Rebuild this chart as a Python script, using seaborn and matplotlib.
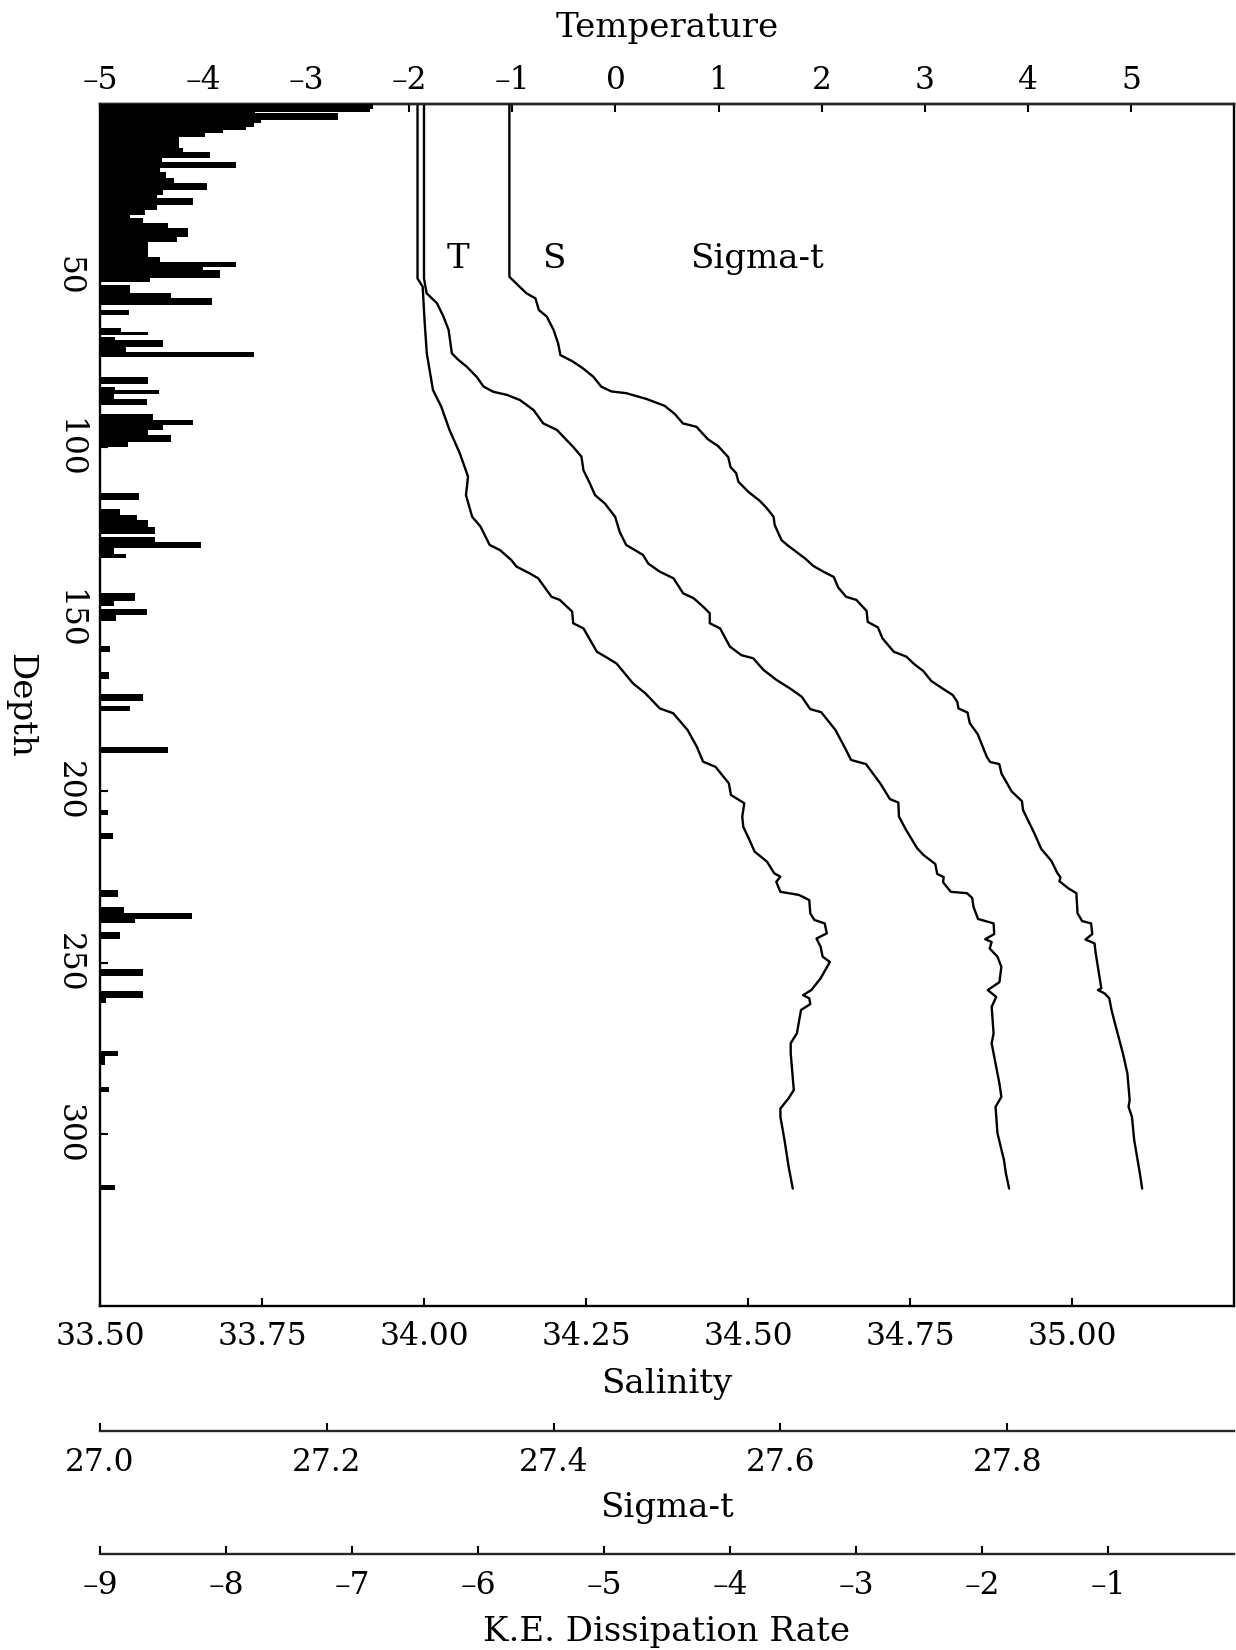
import matplotlib
matplotlib.use("Agg")
import matplotlib.pyplot as plt
import seaborn as sns
import numpy as np

# ---------------- data ----------------
temp_c = [-1.92, -1.92, -1.87, -1.85, -1.83, -1.77, -1.69, -1.61, -1.51, -1.43,
          -1.45, -1.39, -1.31, -1.22, -1.12, -1.01, -0.96, -0.83, -0.75, -0.62,
          -0.54, -0.42, -0.41, -0.31, -0.18, -0.10, 0.01, 0.17, 0.29, 0.43,
          0.56, 0.70, 0.79, 0.85, 0.97, 1.10, 1.12, 1.25, 1.23, 1.24,
          1.30, 1.35, 1.47, 1.54, 1.60, 1.56, 1.60, 1.78, 1.88, 1.89,
          1.93, 2.03, 2.05, 1.95, 1.99, 2.01, 2.08, 1.99, 1.90, 1.82,
          1.88, 1.89, 1.80, 1.76, 1.70, 1.70, 1.73, 1.68, 1.60, 1.60,
          1.64, 1.68, 1.72]
temp_depth = [0, 50.8, 53.2, 63.9, 72.6, 83.3, 88.1, 94.9, 101.7, 108.5,
              113.9, 120.2, 123.0, 128.4, 129.9, 132.8, 134.7, 136.7, 138.1, 143.5,
              144.4, 147.8, 151.2, 152.7, 159.5, 160.9, 162.9, 168.7, 171.6, 176.0,
              177.4, 182.3, 187.2, 191.5, 193.0, 197.8, 201.2, 203.6, 207.5, 210.5,
              214.3, 217.7, 220.6, 224.0, 225.0, 226.5, 229.4, 230.3, 231.8, 235.7,
              237.6, 238.6, 241.5, 243.0, 245.4, 248.3, 249.8, 254.6, 258.0, 259.5,
              260.4, 262.1, 263.8, 270.6, 273.5, 276.4, 287.1, 289.5, 292.5, 294.9,
              301.7, 309.5, 315.8]

sal_psu = [34.00, 34.00, 34.004, 34.020, 34.030, 34.038, 34.043, 34.053, 34.066, 34.081,
           34.092, 34.107, 34.128, 34.148, 34.169, 34.184, 34.205, 34.230, 34.243, 34.246,
           34.256, 34.264, 34.279, 34.295, 34.302, 34.312, 34.338, 34.346, 34.364, 34.385,
           34.400, 34.416, 34.431, 34.441, 34.441, 34.457, 34.472, 34.490, 34.508, 34.524,
           34.544, 34.565, 34.583, 34.596, 34.613, 34.635, 34.650, 34.659, 34.682, 34.704,
           34.719, 34.732, 34.733, 34.744, 34.761, 34.771, 34.789, 34.792, 34.802, 34.801,
           34.813, 34.838, 34.846, 34.848, 34.855, 34.879, 34.880, 34.866, 34.876, 34.873,
           34.885, 34.891, 34.888, 34.870, 34.883, 34.876, 34.879, 34.876, 34.882, 34.888,
           34.891, 34.882, 34.885, 34.895, 34.898, 34.903]
sal_depth = [0, 50.8, 55.1, 58.0, 61.9, 65.8, 72.6, 74.5, 76.5, 79.4,
             82.3, 83.8, 84.7, 86.2, 89.1, 93.0, 94.9, 99.8, 102.7, 106.6,
             110.5, 113.9, 116.3, 120.2, 124.6, 128.4, 131.3, 133.8, 136.2, 138.1,
             142.5, 143.9, 146.4, 148.3, 151.2, 152.7, 158.0, 160.5, 161.4, 164.8,
             167.7, 170.2, 172.6, 176.2, 177.1, 182.3, 187.6, 191.0, 192.2, 197.8,
             202.4, 203.4, 207.5, 211.4, 216.7, 218.7, 221.3, 224.2, 225.1, 226.6,
             229.4, 229.8, 231.2, 233.8, 237.3, 238.6, 241.7, 243.2, 244.0, 245.9,
             248.3, 251.2, 255.7, 258.0, 260.0, 262.9, 270.6, 273.5, 279.4, 285.2,
             289.1, 292.0, 299.7, 307.5, 311.4, 315.8]

sigma_t = [27.361, 27.361, 27.370, 27.376, 27.384, 27.387, 27.394, 27.400, 27.404, 27.406,
           27.417, 27.426, 27.435, 27.442, 27.451, 27.464, 27.482, 27.498, 27.507, 27.514,
           27.526, 27.536, 27.545, 27.554, 27.556, 27.561, 27.563, 27.572, 27.582, 27.588,
           27.594, 27.595, 27.601, 27.606, 27.614, 27.622, 27.629, 27.638, 27.647, 27.651,
           27.658, 27.667, 27.676, 27.677, 27.686, 27.690, 27.700, 27.711, 27.718, 27.726,
           27.733, 27.743, 27.752, 27.756, 27.757, 27.765, 27.767, 27.774, 27.782, 27.785,
           27.793, 27.795, 27.804, 27.813, 27.814, 27.824, 27.830, 27.839, 27.844, 27.847,
           27.846, 27.854, 27.861, 27.862, 27.866, 27.874, 27.875, 27.869, 27.877, 27.878,
           27.883, 27.880, 27.886, 27.890, 27.892, 27.895, 27.902, 27.906, 27.908, 27.907,
           27.910, 27.912, 27.915, 27.917, 27.919]
sigma_depth = [0, 50.3, 53.2, 55.1, 56.6, 60.0, 61.9, 65.8, 69.7, 73.1,
               75.0, 77.0, 79.4, 82.3, 83.7, 84.2, 85.9, 87.9, 90.3, 93.0,
               94.0, 97.6, 99.6, 102.8, 105.7, 107.5, 110.0, 113.0, 115.6, 117.7,
               120.2, 122.6, 127.0, 128.4, 130.4, 132.4, 134.5, 136.2, 137.7, 140.8,
               143.5, 144.4, 147.6, 150.8, 152.4, 155.6, 159.5, 160.9, 163.1, 165.1,
               168.0, 170.2, 172.1, 174.1, 176.0, 177.2, 180.3, 183.5, 190.1, 191.6,
               192.2, 195.0, 200.2, 203.0, 205.6, 212.4, 216.9, 220.4, 223.8, 225.2,
               226.3, 228.4, 229.8, 235.6, 237.9, 238.6, 241.7, 243.3, 244.4, 247.2,
               257.5, 258.0, 259.0, 260.4, 263.8, 267.7, 276.4, 282.3, 290.0, 292.0,
               294.9, 301.7, 307.5, 311.4, 315.8]

# K.E. dissipation rate (log10) in depth bins
ke_top = [0, 1.5, 2.2, 2.7, 4.7, 5.6, 6.6, 7.6, 8.5, 9.5,
          12.9, 13.9, 15.8, 16.8, 18.7, 19.7, 21.6, 23.1, 25.0, 26.5,
          27.5, 29.4, 30.9, 32.3, 33.3, 34.7, 36.2, 38.6, 40.1, 44.5,
          45.9, 47.4, 48.3, 50.8, 52.7, 55.1, 56.6, 58.5, 60.0, 65.3,
          66.3, 67.7, 68.7, 70.7, 72.1, 79.5, 82.4, 83.4, 84.5, 85.8,
          90.2, 92.1, 93.6, 95.0, 96.5, 98.4, 113.4, 115.3, 117.8, 119.7,
          121.2, 123.1, 126.0, 127.5, 129.4, 130.9, 142.5, 144.7, 147.0, 148.9,
          157.8, 165.5, 171.9, 175.2, 187.1, 205.6, 212.3, 229.0, 233.9, 235.7,
          237.2, 241.0, 252.0, 258.4, 260.3, 275.8, 277.3, 286.2, 314.9]
ke_bottom = [1.5, 2.2, 2.7, 4.7, 5.6, 6.6, 7.6, 8.5, 9.5, 12.9,
             13.9, 15.8, 16.8, 18.7, 19.7, 21.6, 23.1, 25.0, 26.5, 27.5,
             29.4, 30.9, 32.3, 33.3, 34.7, 36.2, 38.6, 40.1, 44.5, 45.9,
             47.4, 48.3, 50.8, 51.8, 55.1, 56.6, 58.5, 60.0, 61.4, 66.3,
             67.3, 68.7, 70.7, 72.1, 73.6, 81.4, 83.4, 84.5, 85.8, 87.7,
             92.1, 93.6, 95.0, 96.5, 98.4, 99.9, 115.3, 117.8, 119.7, 121.2,
             123.1, 125.1, 127.5, 129.4, 130.9, 132.3, 144.7, 146.2, 148.9, 150.4,
             159.6, 167.3, 173.7, 176.8, 189.0, 207.1, 214.1, 230.9, 235.7, 237.2,
             238.6, 243.1, 253.9, 260.3, 261.8, 277.3, 279.9, 287.8, 316.3]
ke_rate = [-6.83, -6.86, -7.77, -7.11, -7.72, -7.78, -7.84, -8.02, -8.17, -8.37,
           -8.34, -8.13, -8.51, -7.92, -8.52, -8.48, -8.41, -8.15, -8.50, -8.55,
           -8.26, -8.55, -8.64, -8.76, -8.66, -8.46, -8.30, -8.39, -8.62, -8.52,
           -7.92, -8.18, -8.05, -8.60, -8.76, -8.44, -8.11, -8.99, -8.77, -8.83,
           -8.62, -8.88, -8.50, -8.79, -7.78, -8.62, -8.88, -8.53, -8.89, -8.63,
           -8.58, -8.26, -8.50, -8.62, -8.44, -8.78, -8.69, -8.99, -8.84, -8.71,
           -8.62, -8.56, -8.56, -8.20, -8.89, -8.79, -8.72, -8.89, -8.63, -8.87,
           -8.92, -8.93, -8.66, -8.76, -8.46, -8.94, -8.90, -8.86, -8.81, -8.27,
           -8.72, -8.84, -8.66, -8.66, -8.95, -8.86, -8.96, -8.93, -8.88]

sal_ticks = [33.50, 33.75, 34.00, 34.25, 34.50, 34.75, 35.00]
temp_ticks = [-5, -4, -3, -2, -1, 0, 1, 2, 3, 4, 5]
sigma_ticks = [27.0, 27.2, 27.4, 27.6, 27.8]
ke_ticks = [-9, -8, -7, -6, -5, -4, -3, -2, -1]
depth_ticks = [50, 100, 150, 200, 250, 300]

sal_lim = (33.5, 35.25)
temp_lim = (-5, 6)
sigma_lim = (27.0, 28.0)
ke_lim = (-9, 0)
depth_lim = (350, 0)


def num_label(v):
    # negative numbers drawn with a long dash as in the original print
    return str(v).replace("-", "\u2013")


# ---------------- style ----------------
sns.set_theme(style="ticks")
plt.rcParams["font.family"] = ["DejaVu Serif"]
plt.rcParams["axes.unicode_minus"] = False
FS = 22.5     # tick labels
FST = 24.5    # axis titles / annotations
LW = 1.7
INK = "black"

fig = plt.figure(figsize=(12.36, 16.5), dpi=100)
ax = fig.add_axes([100 / 1236, 1 - 1306 / 1650, 1134 / 1236, 1202 / 1650])
ax_t = ax.twiny()
ax_s = ax.twiny()
ax_k = ax.twiny()

# K.E. dissipation bars
top = np.array(ke_top)
bot = np.array(ke_bottom)
ax_k.barh((top + bot) / 2, np.array(ke_rate) - ke_lim[0], left=ke_lim[0],
          height=bot - top, color=INK, linewidth=0)

# profiles
sns.lineplot(x=sal_psu, y=sal_depth, sort=False, estimator=None, color=INK,
             linewidth=LW, ax=ax, legend=False)
sns.lineplot(x=temp_c, y=temp_depth, sort=False, estimator=None, color=INK,
             linewidth=LW, ax=ax_t, legend=False)
sns.lineplot(x=sigma_t, y=sigma_depth, sort=False, estimator=None, color=INK,
             linewidth=LW, ax=ax_s, legend=False)

ax.set_xlim(*sal_lim)
ax_t.set_xlim(*temp_lim)
ax_s.set_xlim(*sigma_lim)
ax_k.set_xlim(*ke_lim)
ax.set_ylim(*depth_lim)

tick_kw = dict(direction="in", length=6, width=1.5, labelsize=FS, colors=INK)

# salinity (bottom) + depth (left)
for s in ["top", "bottom", "left", "right"]:
    ax.spines[s].set_linewidth(LW)
    ax.spines[s].set_color(INK)
ax.set_xticks(sal_ticks, labels=[f"{v:.2f}" for v in sal_ticks])
ax.tick_params(axis="x", bottom=True, top=False, pad=11, **tick_kw)
ax.set_yticks(depth_ticks, labels=[str(v) for v in depth_ticks])
ax.tick_params(axis="y", left=True, right=False, pad=11, **tick_kw)
plt.setp(ax.get_yticklabels(), rotation=270, va="center", ha="right")
ax.set_xlabel("Salinity", fontsize=FST, labelpad=11, color=INK)
ax.set_ylabel("Depth", fontsize=FST, rotation=270, va="center", ha="center", color=INK)
ax.yaxis.set_label_coords(-0.0705, 0.5)

# temperature (top)
for s in ["bottom", "left", "right"]:
    ax_t.spines[s].set_visible(False)
ax_t.spines["top"].set_linewidth(LW)
ax_t.set_xticks(temp_ticks, labels=[num_label(v) for v in temp_ticks])
ax_t.tick_params(axis="x", top=True, bottom=False, labeltop=True, labelbottom=False,
                 pad=6, **tick_kw)
ax_t.set_xlabel("Temperature", fontsize=FST, labelpad=20, color=INK)

# sigma-t (detached axis below)
ax_s.xaxis.tick_bottom()
ax_s.xaxis.set_label_position("bottom")
for s in ["top", "left", "right"]:
    ax_s.spines[s].set_visible(False)
ax_s.spines["bottom"].set_position(("axes", -0.1037))
ax_s.spines["bottom"].set_linewidth(LW)
ax_s.set_xticks(sigma_ticks, labels=[f"{v:.1f}" for v in sigma_ticks])
ax_s.tick_params(axis="x", pad=12, **tick_kw)
ax_s.set_xlabel("Sigma-t", fontsize=FST, labelpad=10, color=INK)

# K.E. dissipation (detached axis further below)
ax_k.xaxis.tick_bottom()
ax_k.xaxis.set_label_position("bottom")
for s in ["top", "left", "right"]:
    ax_k.spines[s].set_visible(False)
ax_k.spines["bottom"].set_position(("axes", -0.2063))
ax_k.spines["bottom"].set_linewidth(LW)
ax_k.set_xticks(ke_ticks, labels=[num_label(v) for v in ke_ticks])
ax_k.tick_params(axis="x", pad=11.5, **tick_kw)
ax_k.set_xlabel("K.E. Dissipation Rate", fontsize=FST, labelpad=11, color=INK)

# curve labels
for lbl, xf in [("T", 0.3153), ("S", 0.4004), ("Sigma-t", 0.579)]:
    ax.text(xf, 0.8636, lbl, transform=ax.transAxes, ha="center", va="baseline",
            fontsize=FST, color=INK)

fig.savefig("out.png", dpi=100, facecolor="white")
